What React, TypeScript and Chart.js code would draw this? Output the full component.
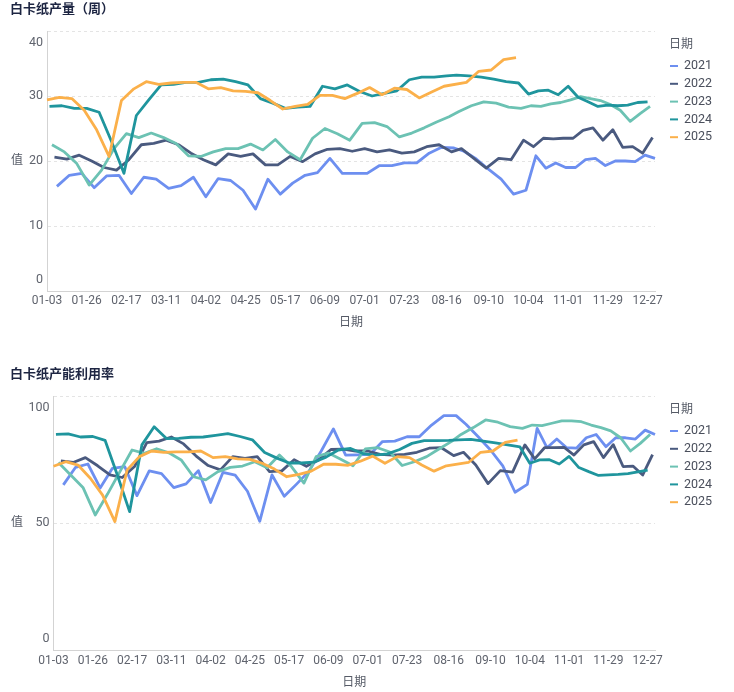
import React, { useEffect, useRef } from 'react';
import { Chart, registerables } from 'chart.js';

Chart.register(...registerables);

// ---------- data ----------
const YEARS = ['2021', '2022', '2023', '2024', '2025'];
// first weekly (Friday) observation of each year
const FIRST_DATES = ['2021-01-08', '2022-01-07', '2023-01-06', '2024-01-05', '2025-01-03'];

const X_TICKS = ['01-03', '01-26', '02-17', '03-11', '04-02', '04-25', '05-17', '06-09',
  '07-01', '07-23', '08-16', '09-10', '10-04', '11-01', '11-29', '12-27'];

// 白卡纸产量（周）
const OUTPUT_2021 = [16.1, 17.8, 18.1, 15.9, 17.7, 17.8, 15.0, 17.5, 17.2, 15.8, 16.2, 17.5, 14.5, 17.3, 17.0, 15.5, 12.6, 17.2, 14.9, 16.6, 17.8, 18.2, 20.4, 18.1, 18.1, 18.1, 19.3, 19.3, 19.7, 19.7, 21.2, 22.1, 22.0, 21.5, 20.3, 18.7, 17.2, 14.9, 15.5, 20.8, 18.9, 19.7, 19.0, 19.0, 20.2, 20.4, 19.3, 20.0, 20.0, 19.9, 20.9, 20.4];
const OUTPUT_2022 = [20.6, 20.3, 20.9, 20.0, 19.0, 18.6, 20.2, 22.5, 22.7, 23.2, 22.5, 21.2, 20.2, 19.4, 21.1, 20.7, 21.1, 19.4, 19.4, 20.7, 19.9, 21.1, 21.8, 21.9, 21.5, 21.9, 21.4, 21.7, 21.2, 21.4, 22.2, 22.5, 21.4, 21.9, 20.4, 18.9, 20.4, 20.2, 23.2, 22.2, 23.5, 23.4, 23.5, 23.5, 24.7, 25.1, 23.2, 24.8, 22.1, 22.2, 21.2, 23.6];
const OUTPUT_2023 = [22.5, 21.4, 19.6, 16.3, 18.6, 21.9, 24.2, 23.6, 24.3, 23.6, 22.7, 20.8, 20.7, 21.4, 21.9, 21.9, 22.6, 21.7, 23.3, 21.4, 20.2, 23.5, 25.0, 24.2, 23.2, 25.8, 25.9, 25.3, 23.7, 24.3, 25.1, 26.0, 26.8, 27.6, 28.5, 29.1, 28.9, 28.3, 28.1, 28.5, 28.4, 28.8, 29.0, 29.4, 29.9, 29.6, 29.3, 28.7, 27.8, 26.1, 27.3, 28.4];
const OUTPUT_2024 = [28.4, 28.5, 28.1, 28.1, 27.5, 23.0, 18.1, 27.0, 29.4, 31.7, 31.8, 32.1, 32.1, 32.5, 32.6, 32.2, 31.7, 29.6, 28.9, 28.1, 28.3, 28.4, 31.5, 31.1, 31.7, 30.7, 30.0, 30.4, 30.8, 32.5, 32.9, 32.9, 33.1, 33.2, 33.1, 32.9, 32.6, 32.2, 32.0, 30.3, 30.8, 30.9, 30.2, 31.5, 29.8, 29.1, 28.4, 28.6, 28.5, 28.6, 29.0, 29.1];
const OUTPUT_2025 = [29.4, 29.8, 29.6, 27.8, 24.8, 20.7, 29.3, 31.1, 32.2, 31.8, 32.0, 32.1, 32.1, 31.1, 31.3, 30.8, 30.7, 30.5, 29.3, 28.0, 28.4, 28.7, 30.1, 30.1, 29.6, 30.4, 31.3, 30.2, 31.2, 31.0, 29.7, 30.6, 31.5, null, 32.1, 33.8, 34.0, 35.6, 35.9];

// 白卡纸产能利用率
const UTIL_2021 = [65.1, 72.0, 73.3, 63.9, 71.6, 72.3, 60.9, 70.6, 69.5, 64.0, 65.5, 70.7, 58.2, 70.0, 68.9, 62.6, 50.8, 69.0, 60.6, 65.4, 70.4, 78.3, 87.1, 76.8, 76.9, 77.1, 82.1, 82.3, 84.0, 84.0, 88.6, 92.3, 92.3, 88.9, 84.0, 78.8, 72.6, 62.2, 65.3, 87.3, 79.7, 83.1, 79.7, 79.5, 83.6, 84.9, 80.1, 83.6, 83.6, 83.1, 86.6, 84.9];
const UTIL_2022 = [74.5, 73.9, 75.8, 72.6, 69.0, 68.0, 72.3, 81.7, 82.3, 83.9, 81.2, 76.5, 72.7, 71.0, 76.2, 75.5, 76.2, 70.3, 70.6, 75.0, 72.4, 74.9, 79.0, 79.1, 78.4, 78.4, 77.1, 76.8, 77.1, 77.9, 79.5, 79.7, 76.6, 77.9, 72.9, 65.6, 70.7, 70.1, 80.8, 75.3, 79.7, 79.7, 79.8, 76.8, 80.8, 82.1, 75.8, 80.9, 72.3, 72.5, 69.0, 77.0];
const UTIL_2023 = [73.9, 69.0, 64.1, 53.3, 61.5, 70.2, 78.8, 77.5, 79.3, 77.7, 74.9, 68.3, 67.1, 70.3, 72.0, 72.5, 74.2, 71.8, 76.8, 72.2, 65.8, 76.2, 77.6, 75.2, 72.6, 79.2, 79.7, 78.0, 72.7, 74.2, 76.2, 79.2, 82.1, 84.9, 87.6, 90.6, 89.7, 88.0, 87.3, 88.6, 88.4, 89.3, 90.2, 90.2, 89.9, 88.6, 87.6, 86.3, 83.6, 78.4, 81.4, 84.9];
const UTIL_2024 = [84.9, 85.1, 83.9, 84.1, 82.6, 69.0, 54.6, 80.8, 87.9, 83.3, 83.4, 83.8, 83.9, 84.5, 85.2, 84.1, 82.8, 77.8, 75.6, 73.7, 73.7, 74.0, 76.0, 78.8, 79.4, 77.4, 76.8, 77.3, 79.0, 81.4, 82.5, 82.5, 82.6, 82.8, 83.0, 82.3, 81.6, 80.8, 80.0, 73.6, 74.9, 75.0, 73.3, 76.3, 71.9, 70.3, 68.8, 69.0, 69.2, 69.5, 70.2, 70.9];
const UTIL_2025 = [72.4, 74.2, 72.9, 67.7, 61.1, 50.7, 71.0, 76.2, 78.4, 77.9, 78.1, 78.1, 78.4, 75.8, 76.2, 75.3, 75.1, 73.6, 71.3, 68.3, 69.2, 70.5, 73.2, 73.2, 72.8, 74.4, 76.4, 73.6, 76.2, 75.8, 72.9, 70.5, 72.6, null, 73.9, 77.9, 78.4, 81.8, 82.7];

const OUTPUT_Y_TICKS = [0, 10, 20, 30, 40];
const UTIL_Y_TICKS = [0, 50, 100];

const OUTPUT_SERIES = [OUTPUT_2021, OUTPUT_2022, OUTPUT_2023, OUTPUT_2024, OUTPUT_2025];
const UTIL_SERIES = [UTIL_2021, UTIL_2022, UTIL_2023, UTIL_2024, UTIL_2025];

// ---------- style ----------
const COLORS = ['#6d8ff0', '#4a5a7f', '#6cc2b3', '#1f959d', '#fbb04a'];
const FONT = "Roboto, 'Noto Sans CJK SC', 'Noto Sans', sans-serif";
const TICK_COLOR = '#60646e';
const AXIS_TITLE_COLOR = '#555a66';
const LEGEND_TEXT = '#4a4f5c';
const TITLE_COLOR = '#1d2542';

function weekDates(first: string, n: number): string[] {
  const y = +first.slice(0, 4);
  const m = +first.slice(5, 7) - 1;
  const d = +first.slice(8, 10);
  const t0 = Date.UTC(y, m, d);
  const out: string[] = [];
  for (let k = 0; k < n; k++) {
    const dt = new Date(t0 + k * 7 * 86400000);
    out.push(String(dt.getUTCMonth() + 1).padStart(2, '0') + '-' + String(dt.getUTCDate()).padStart(2, '0'));
  }
  return out;
}

function buildData(series: (number | null)[][]) {
  const datasets = series.map((vals, i) => {
    const dates = weekDates(FIRST_DATES[i], vals.length);
    const pts = dates.map((x, k) => ({ x, y: vals[k] })).filter((p) => p.y !== null);
    return {
      label: YEARS[i],
      data: pts,
      borderColor: COLORS[i],
      backgroundColor: COLORS[i],
      borderWidth: 2.8,
      pointRadius: 0,
      pointHoverRadius: 0,
      tension: 0,
      fill: false,
      borderJoinStyle: 'round' as const,
      order: YEARS.length - 1 - i,
    };
  });
  const set = new Set<string>();
  datasets.forEach((ds) => ds.data.forEach((p: any) => set.add(p.x)));
  const labels = Array.from(set).sort();
  return { labels, datasets };
}

const decorPlugin = {
  id: 'decor',
  afterDraw(chart: any, _args: any, opts: any) {
    const { ctx, chartArea } = chart;
    ctx.save();
    ctx.font = `12px ${FONT}`;
    ctx.fillStyle = AXIS_TITLE_COLOR;
    ctx.textAlign = 'center';
    ctx.textBaseline = 'middle';
    ctx.fillText(opts.yTitle, 17, (chartArea.top + chartArea.bottom) / 2);
    // legend
    ctx.textAlign = 'left';
    ctx.fillText(opts.legendTitle, 669, chartArea.top + 14);
    chart.data.datasets.forEach((ds: any, i: number) => {
      const y = chartArea.top + 35 + 17.8 * i;
      ctx.strokeStyle = ds.borderColor;
      ctx.lineWidth = 2;
      ctx.beginPath();
      ctx.moveTo(670, y);
      ctx.lineTo(678, y);
      ctx.stroke();
      ctx.fillStyle = LEGEND_TEXT;
      ctx.font = `12.5px ${FONT}`;
      ctx.fillText(ds.label, 684, y);
    });
    ctx.restore();
  },
};

function makeConfig(p: {
  title: string;
  series: (number | null)[][];
  yTicks: number[];
  yWidth: number;
  xHeight: number;
  titleTop: number;
  xTitleBottom: number;
}) {
  const data = buildData(p.series);
  const yMin = p.yTicks[0];
  const yMax = p.yTicks[p.yTicks.length - 1];
  const step = p.yTicks[1] - p.yTicks[0];
  return {
    type: 'line' as const,
    data,
    plugins: [decorPlugin],
    options: {
      responsive: false,
      animation: false as const,
      events: [],
      layout: { padding: { left: 10, right: 79, top: 0, bottom: 0 } },
      plugins: {
        legend: { display: false },
        tooltip: { enabled: false },
        title: {
          display: true,
          text: p.title,
          align: 'start' as const,
          color: TITLE_COLOR,
          font: { size: 13, weight: 'bold' as const, family: FONT },
          padding: { top: p.titleTop, bottom: 31 - 2.2 - 15.6 },
        },
        decor: { yTitle: '值', legendTitle: '日期' },
      },
      scales: {
        x: {
          type: 'category' as const,
          offset: false,
          grid: { display: false, drawTicks: false },
          border: { display: true, color: '#d3d3d3', width: 1 },
          ticks: {
            autoSkip: false,
            maxRotation: 0,
            minRotation: 0,
            padding: 3,
            color: TICK_COLOR,
            font: { size: 12, family: FONT },
            callback: function (this: any, value: any) {
              const lab = this.getLabelForValue(value);
              return X_TICKS.includes(lab) ? lab : '';
            },
          },
          title: {
            display: true,
            text: '日期',
            color: AXIS_TITLE_COLOR,
            font: { size: 12, family: FONT },
            padding: { top: 4, bottom: p.xTitleBottom },
          },
          afterFit(scale: any) {
            scale.height = p.xHeight;
          },
        },
        y: {
          min: yMin,
          max: yMax,
          grid: { color: '#e4e4e4', lineWidth: 1, drawTicks: false },
          border: { display: true, color: '#d3d3d3', width: 1, dash: [3, 3] },
          ticks: {
            stepSize: step,
            padding: 4,
            color: TICK_COLOR,
            font: { size: 12.5, family: FONT, lineHeight: '23px' },
            callback: (v: any) => {
              if (v === yMax) return ['', String(v)];
              if (v === yMin) return [String(v), ''];
              return String(v);
            },
          },
          afterFit(scale: any) {
            scale.width = p.yWidth;
          },
        },
      },
    },
  };
}

export default function App() {
  const topRef = useRef<HTMLCanvasElement | null>(null);
  const botRef = useRef<HTMLCanvasElement | null>(null);

  useEffect(() => {
    const c1 = new Chart(topRef.current as HTMLCanvasElement, makeConfig({
      title: '白卡纸产量（周）',
      series: OUTPUT_SERIES,
      yTicks: OUTPUT_Y_TICKS,
      yWidth: 37,
      xHeight: 335 - 291,
      titleTop: 2.2,
      xTitleBottom: 4.8,
    }) as any);
    const c2 = new Chart(botRef.current as HTMLCanvasElement, makeConfig({
      title: '白卡纸产能利用率',
      series: UTIL_SERIES,
      yTicks: UTIL_Y_TICKS,
      yWidth: 43.5,
      xHeight: 330 - 288.7,
      titleTop: 5.2,
      xTitleBottom: 2.3,
    }) as any);
    return () => {
      c1.destroy();
      c2.destroy();
    };
  }, []);

  return (
    <div style={{ position: 'fixed', left: 0, top: 0, width: 734, height: 692, overflow: 'hidden', background: '#fff' }}>
      <canvas ref={topRef} width={734} height={335} style={{ position: 'absolute', left: 0, top: 0 }} />
      <canvas ref={botRef} width={734} height={330} style={{ position: 'absolute', left: 0, top: 362 }} />
    </div>
  );
}
